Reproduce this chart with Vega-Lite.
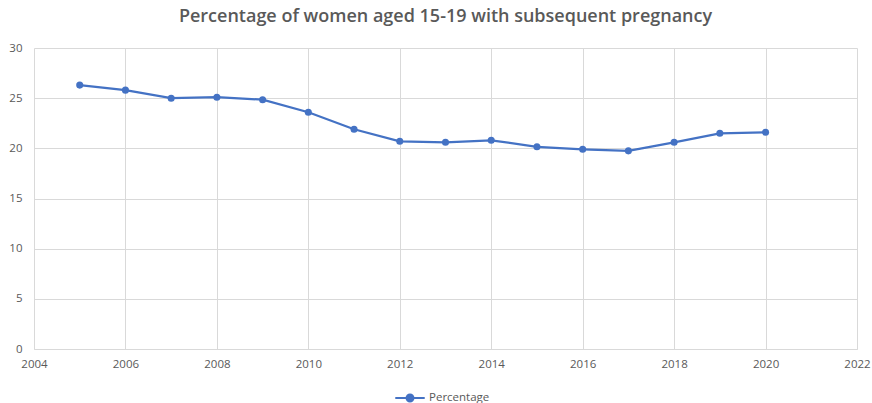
{
  "$schema": "https://vega.github.io/schema/vega-lite/v6.json",
  "autosize": "none",
  "width": 823,
  "height": 301,
  "padding": {"left": 34, "top": 48, "right": 15, "bottom": 54},
  "background": "white",
  "title": {
    "text": "Percentage of women aged 15-19 with subsequent pregnancy",
    "font": "Open Sans",
    "fontSize": 18,
    "fontWeight": 600,
    "color": "#595959",
    "anchor": "middle",
    "offset": 16
  },
  "data": {
    "values": [
      {"year": 2005, "value": 26.3, "series": "Percentage"},
      {"year": 2006, "value": 25.8, "series": "Percentage"},
      {"year": 2007, "value": 25.0, "series": "Percentage"},
      {"year": 2008, "value": 25.1, "series": "Percentage"},
      {"year": 2009, "value": 24.85, "series": "Percentage"},
      {"year": 2010, "value": 23.6, "series": "Percentage"},
      {"year": 2011, "value": 21.9, "series": "Percentage"},
      {"year": 2012, "value": 20.7, "series": "Percentage"},
      {"year": 2013, "value": 20.6, "series": "Percentage"},
      {"year": 2014, "value": 20.8, "series": "Percentage"},
      {"year": 2015, "value": 20.15, "series": "Percentage"},
      {"year": 2016, "value": 19.9, "series": "Percentage"},
      {"year": 2017, "value": 19.75, "series": "Percentage"},
      {"year": 2018, "value": 20.6, "series": "Percentage"},
      {"year": 2019, "value": 21.5, "series": "Percentage"},
      {"year": 2020, "value": 21.6, "series": "Percentage"}
    ]
  },
  "encoding": {
    "x": {
      "field": "year",
      "type": "quantitative",
      "scale": {"domain": [2004, 2022], "nice": false, "zero": false},
      "axis": {
        "title": null,
        "values": [2004, 2006, 2008, 2010, 2012, 2014, 2016, 2018, 2020, 2022],
        "format": "d",
        "labelFont": "Open Sans",
        "labelFontSize": 11.5,
        "labelColor": "#595959",
        "labelPadding": 9,
        "ticks": false,
        "domainColor": "#d9d9d9",
        "gridColor": "#d9d9d9",
        "labelFlush": false
      }
    },
    "y": {
      "field": "value",
      "type": "quantitative",
      "scale": {"domain": [0, 30], "nice": false},
      "axis": {
        "title": null,
        "values": [0, 5, 10, 15, 20, 25, 30],
        "labelFont": "Open Sans",
        "labelFontSize": 11.5,
        "labelColor": "#595959",
        "labelPadding": 12,
        "ticks": false,
        "domain": false,
        "gridColor": "#d9d9d9"
      }
    },
    "color": {
      "field": "series",
      "type": "nominal",
      "scale": {"range": ["#4472C4"]},
      "legend": {
        "title": null,
        "orient": "none",
        "legendX": 366,
        "legendY": 340,
        "labelFont": "Open Sans",
        "labelFontSize": 11.5,
        "labelColor": "#595959",
        "labelOffset": 9,
        "symbolType": "M-1.7,0H1.7M-0.4,0A0.4,0.4 0 1,0 0.4,0A0.4,0.4 0 1,0 -0.4,0Z",
        "symbolSize": 300,
        "symbolStrokeWidth": 2,
        "symbolFillColor": "#4472C4",
        "symbolStrokeColor": "#4472C4"
      }
    }
  },
  "layer": [
    {"mark": {"type": "line", "strokeWidth": 2.25}},
    {"mark": {"type": "point", "filled": true, "size": 50, "opacity": 1}}
  ],
  "config": {
    "view": {"stroke": null}
  }
}
